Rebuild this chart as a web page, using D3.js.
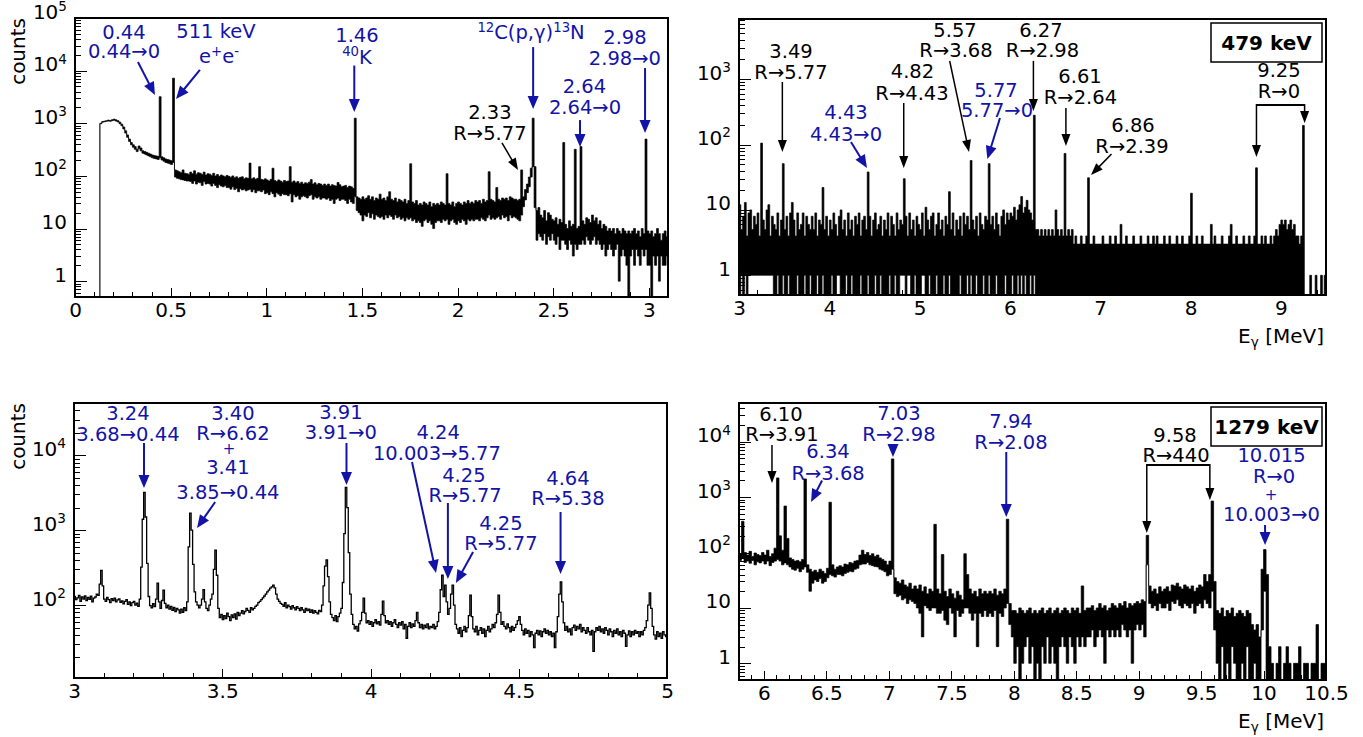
<!DOCTYPE html>
<html><head><meta charset="utf-8">
<script src="https://cdn.jsdelivr.net/npm/d3@7/dist/d3.min.js"></script>
<style>html,body{margin:0;padding:0;background:#fff}svg{display:block}</style>
</head><body>
<svg id="chart" width="1363" height="737"></svg>
<script>
// ---------------- DATA ----------------
// Panel A: 0 - 3.1 MeV, 10 keV bins, upper/lower envelope of the trace
const aStart = 0, aBin = 0.01;
const aHi = [
0,0,0,0,0,0,0,0,0,0,
0,0,0,1000,1080,1100,1120,1150,1130,1170,
1200,1160,1120,1050,960,850,720,600,500,430,
390,360,320,370,340,300,290,280,270,260,
250,245,240,235,3200,230,220,210,205,200,
195,7200,130,125,120,115,130,112,110,108,
118,110,125,108,115,112,106,118,104,110,
108,102,112,100,106,98,104,100,96,102,
98,94,100,92,96,90,94,96,88,92,
90,175,88,92,86,90,150,86,84,88,
84,80,86,140,82,78,84,80,76,82,
78,80,150,76,80,74,78,72,76,70,
74,72,76,85,70,74,68,72,70,66,
70,66,70,64,68,66,64,75,68,62,
64,66,60,64,62,58,1250,40,38,36,
40,36,38,42,36,40,34,38,36,45,
36,38,34,40,50,36,34,38,32,36,
34,32,36,30,34,170,32,30,34,28,
30,28,32,30,28,32,26,30,28,30,
28,32,30,28,110,30,28,32,26,30,
32,30,28,32,30,34,30,32,30,34,
32,34,30,36,32,34,120,36,34,32,
60,36,34,38,36,38,34,40,38,36,
36,34,36,130,40,55,70,95,140,1250,
150,22,25,18,16,22,14,20,18,15,
14,16,12,15,13,430,12,10,14,11,
12,320,10,11,360,14,12,16,15,13,
18,14,16,12,14,10,12,11,9,10,
9,10,8,10,9,8,10,9,8,9,
8,9,10,8,9,7,10,8,500,9,
8,9,7,8,10,8,6,8,9,7];
const aLo = [
0,0,0,0,0,0,0,0,0,0,
0,0,0,980,1050,1070,1090,1100,1090,1120,
1140,1100,1060,980,900,780,650,540,450,390,
350,320,290,330,300,270,260,250,240,230,
220,215,210,205,220,200,190,180,175,170,
165,180,95,90,88,85,84,82,80,80,
78,72,80,70,76,74,66,78,70,72,
70,64,72,66,60,68,64,62,66,60,
60,56,62,55,58,50,57,54,56,52,
54,56,50,55,48,52,52,50,54,46,
48,44,50,46,40,48,45,42,46,44,
44,42,46,32,44,40,42,36,40,42,
40,38,42,44,36,40,38,40,36,38,
38,36,38,34,36,30,36,38,34,36,
36,34,30,36,32,30,40,22,20,18,
14,18,17,20,16,19,15,18,17,16,
17,15,18,16,18,17,15,18,16,17,
15,16,14,16,15,16,14,15,13,14,
13,11,14,15,13,14,12,10,13,14,
14,13,15,14,15,12,14,15,13,12,
14,13,15,14,12,15,14,15,14,15,
15,14,16,15,14,16,18,15,16,15,
16,17,15,18,16,17,14,18,16,17,
16,15,14,18,26,35,48,62,95,150,
25,6,8,7,6,8,5,7,6,8,
6,5,7,4,6,6,5,4,6,5,
3,5,4,5,5,6,5,7,6,5,
6,7,5,6,5,4,5,3,4,5,
4,3,4,5,1,3,4,3,2,0,
3,4,2,4,3,2,4,3,4,2,
2,0,3,2,3,1,3,2,2,3];

// Panel B: 3 - 9.5 MeV, 20 keV bins ("479 keV")
const bStart = 3, bBin = 0.02;
const bHi = [
12,5,8,13,4,9,10,5,8,6,
9,4,105,7,5,10,12,4,8,6,
5,9,4,7,51,5,8,4,9,13,
7,4,9,5,6,9,4,8,6,5,
8,5,9,4,7,6,22,5,8,4,
7,5,9,6,4,8,10,5,7,4,
9,5,7,4,8,6,9,4,7,8,
5,38,8,4,7,9,5,6,8,4,
7,5,9,4,8,6,4,9,5,7,
6,30,8,4,9,5,7,4,8,6,
5,9,4,11,7,5,8,9,4,6,
9,5,7,4,8,6,19,5,9,4,
7,5,8,4,9,6,8,5,57,7,
5,8,4,9,6,5,8,7,51,6,
8,5,9,6,4,8,10,6,9,7,
9,8,11,7,10,12,16,9,11,14,
10,9,7,280,5,5,4,5,4,5,
4,5,4,5,4,10,5,4,5,4,
73,4,5,4,5,3,4,3,3,4,
3,3,4,31,3,3,4,3,3,3,
3,4,3,3,3,4,3,3,4,3,
3,6,3,3,4,3,3,3,4,3,
3,3,4,3,3,3,4,3,3,4,
3,4,3,3,3,4,3,3,4,3,
3,3,4,3,3,4,3,3,3,4,
18,3,3,4,3,3,4,3,3,3,
3,6,3,4,3,3,3,4,3,3,
3,4,6,3,3,4,3,3,3,4,
3,3,4,3,3,4,44,3,3,4,
3,4,3,3,4,3,4,5,4,6,
7,6,7,5,6,7,5,6,4,4,
3,4,196,0,0,0,1,0,0,1,
0,0,1,0,1];
const bLo = [
0,1,0,1,0,1,1,1,1,1,
1,1,1,1,1,1,1,1,1,0,
0,1,0,0,1,0,0,1,0,0,
0,0,1,0,0,0,1,0,0,1,
0,0,0,1,0,0,1,0,0,0,
0,1,0,0,1,1,0,0,0,1,
0,0,1,0,0,0,0,1,0,0,
0,1,0,0,0,1,0,0,1,0,
0,0,0,1,0,0,1,0,0,1,
1,1,0,1,1,0,0,1,0,0,
0,1,1,0,0,1,0,0,0,1,
0,0,0,1,0,0,1,0,0,0,
0,0,1,0,0,0,1,0,1,0,
0,1,0,0,0,1,0,0,1,0,
0,0,1,0,0,0,0,1,0,0,
0,1,0,0,1,0,1,0,1,0,
0,1,0,1,0,0,0,0,0,0,
0,0,0,0,0,0,0,0,0,0,
0,0,0,0,0,0,0,0,0,0,
0,0,0,0,0,0,0,0,0,0,
0,0,0,0,0,0,0,0,0,0,
0,0,0,0,0,0,0,0,0,0,
0,0,0,0,0,0,0,0,0,0,
0,0,0,0,0,0,0,0,0,0,
0,0,0,0,0,0,0,0,0,0,
0,0,0,0,0,0,0,0,0,0,
0,0,0,0,0,0,0,0,0,0,
0,0,0,0,0,0,0,0,0,0,
0,0,0,0,0,0,0,0,0,0,
0,0,0,0,0,0,0,0,0,0,
0,0,0,0,0,0,0,0,0,0,
0,0,0,0,0,0,0,0,0,0,
0,0,0,0,0];

// Panel C: 3 - 5 MeV, 5 keV bins
const cStart = 3, cBin = 0.005;
const cVal = [
130,118,125,135,112,128,120,132,115,126,
119,131,110,124,128,140,135,190,290,180,
120,112,126,118,108,122,115,124,110,117,
121,109,114,104,112,118,102,110,98,108,
112,100,106,96,120,320,1400,3200,1500,360,
130,98,92,104,95,120,196,110,90,115,
158,105,92,100,88,96,85,93,82,90,
86,78,88,80,92,84,110,600,1690,1000,
350,150,110,100,92,100,120,160,110,90,
84,100,120,140,300,540,250,90,68,75,
64,72,66,78,70,62,74,68,76,65,
80,72,78,84,76,82,90,85,80,92,
86,90,96,100,108,112,118,125,132,140,
150,158,168,175,185,170,140,120,112,105,
102,96,108,92,100,95,88,98,92,86,
95,90,84,92,86,80,90,84,88,80,
86,78,84,80,76,85,82,100,180,330,
400,240,110,75,68,62,72,60,70,78,
90,200,900,3740,2000,500,140,75,55,48,
52,45,56,62,80,124,78,58,62,55,
60,52,58,64,56,60,54,75,113,72,
58,62,55,60,52,58,64,55,50,58,
54,60,48,55,36,52,58,50,56,52,
62,80,58,50,55,48,54,50,56,48,
52,50,55,48,52,60,80,160,250,130,
185,110,75,90,140,185,100,55,48,42,
50,38,46,52,44,50,72,136,70,48,
44,52,40,46,50,42,48,38,46,52,
44,48,55,50,58,75,136,80,55,60,
52,48,56,50,44,52,46,50,55,62,
70,55,46,40,48,42,46,38,44,40,
27,42,46,40,45,38,44,48,42,46,
40,44,38,42,27,44,70,140,203,110,
58,46,52,44,48,40,50,54,46,52,
48,55,44,50,46,42,50,44,40,46,
24,44,50,46,52,44,48,42,50,46,
40,48,44,38,46,42,48,40,44,38,
46,42,28,40,45,38,44,40,46,42,
44,38,44,40,46,50,62,100,145,90,
52,40,35,44,38,42,36,44,40,38];

// Panel D: 5.8 - 10.5 MeV, 20 keV bins ("1279 keV")
const dStart = 5.8, dBin = 0.02;
const dHi = [
95,366,100,90,105,85,98,92,88,100,
90,110,85,95,120,2220,200,110,690,180,
80,75,70,72,68,75,2130,60,50,45,
48,44,50,46,42,52,810,60,50,55,
58,55,62,60,66,64,70,72,90,110,
92,100,88,95,85,90,80,75,70,60,
70,4900,35,30,28,32,26,24,28,22,
25,22,26,20,24,18,22,20,323,22,
18,92,20,16,22,18,15,20,17,14,
95,40,22,18,20,16,22,18,20,18,
20,18,22,17,20,18,22,400,12,9,
9,8,10,9,8,9,10,8,9,8,
9,10,8,9,10,8,9,10,8,9,
10,9,8,10,9,10,8,25,9,10,
10,11,9,10,12,10,11,9,10,12,
11,10,12,11,13,10,12,11,12,13,
12,14,13,204,25,20,22,18,24,20,
22,24,20,26,25,28,24,22,26,24,
22,25,20,23,26,24,40,30,40,850,
30,9,8,10,7,9,8,10,7,8,
9,8,7,9,8,5,4,5,3,50,
113,40,2,1,0,1,2,0,1,2,
1,0,1,1,2,0,1,1,0,1,
1,5,0,1,1];
const dLo = [
72,80,66,70,64,72,60,68,65,70,
62,70,58,66,70,75,70,60,65,60,
55,50,48,52,45,50,55,44,20,28,
32,30,34,28,30,35,40,38,36,40,
40,38,42,44,46,45,50,52,60,62,
62,66,60,58,56,55,50,48,45,38,
40,50,18,16,17,14,15,12,14,13,
12,10,8,3,11,10,9,10,10,8,
8,9,6,5,10,8,3,9,7,8,
10,10,8,6,8,2,8,7,9,7,
8,7,9,2,8,7,10,12,5,3,
1,2,0,1,2,3,1,2,0,1,
0,2,1,3,1,2,1,0,2,3,
2,1,3,2,1,3,2,3,2,3,
3,4,2,3,4,3,1,4,3,4,
3,4,3,5,4,3,4,1,4,5,
4,5,3,60,12,10,11,9,12,10,
10,12,9,13,12,14,11,10,12,11,
10,12,8,11,12,10,14,12,10,20,
4,1,0,2,0,1,0,2,1,0,
0,1,0,2,0,0,1,0,0,4,
20,0,0,0,0,0,0,0,0,0,
0,0,0,0,0,0,0,0,0,0,
0,0,0,0,0];

// tick labels
const aXTicks = [0,0.5,1,1.5,2,2.5,3];
const aXLabels = ["0","0.5","1","1.5","2","2.5","3"];
const aYTicks = [1,10,100,1000,10000,100000];
const aYLabels = ["1","10","10^{2}","10^{3}","10^{4}","10^{5}"];
const bXTicks = [3,4,5,6,7,8,9];
const bXLabels = ["3","4","5","6","7","8","9"];
const bYTicks = [1,10,100,1000];
const bYLabels = ["1","10","10^{2}","10^{3}"];
const cXTicks = [3,3.5,4,4.5,5];
const cXLabels = ["3","3.5","4","4.5","5"];
const cYTicks = [100,1000,10000];
const cYLabels = ["10^{2}","10^{3}","10^{4}"];
const dXTicks = [6,6.5,7,7.5,8,8.5,9,9.5,10,10.5];
const dXLabels = ["6","6.5","7","7.5","8","8.5","9","9.5","10","10.5"];
const dYTicks = [1,10,100,1000,10000];
const dYLabels = ["1","10","10^{2}","10^{3}","10^{4}"];

// annotations: [text, energy, counts(baseline), colour]
const annA = [
 ["0.44",0.256,4.0e4,"b"],["0.44→0",0.256,1.74e4,"b"],
 ["511 keV",0.737,4.17e4,"b"],["e^{+}e^{-}",0.753,1.4e4,"b"],
 ["1.46",1.474,3.5e4,"b"],["^{40}K",1.474,1.35e4,"b"],
 ["^{12}C(p,γ)^{13}N",2.384,4.0e4,"b"],
 ["2.98",2.875,3.2e4,"b"],["2.98→0",2.875,1.28e4,"b"],
 ["2.64",2.663,3760,"b"],["2.64→0",2.666,1500,"b"],
 ["2.33",2.169,1205,"k"],["R→5.77",2.169,481,"k"]];
const arrA = [
 [0.329,1.46e4,0.418,3440,"b"],[0.653,1.03e4,0.528,2890,"b"],
 [1.46,1.25e4,1.46,1640,"b"],[2.395,2.8e4,2.395,1870,"b"],
 [2.98,1.12e4,2.98,653,"b"],[2.64,1150,2.64,354,"b"],
 [2.232,422,2.316,129,"k"]];
const annB = [
 ["3.49",3.576,2100,"k"],["R→5.77",3.576,1000,"k"],
 ["4.43",4.185,245,"b"],["4.43→0",4.185,113,"b"],
 ["4.82",4.921,1040,"k"],["R→4.43",4.916,480,"k"],
 ["5.57",5.392,4400,"k"],["R→3.68",5.403,2180,"k"],
 ["5.77",5.846,533,"b"],["5.77→0",5.857,264,"b"],
 ["6.27",6.344,4400,"k"],["R→2.98",6.361,2180,"k"],
 ["6.61",6.776,873,"k"],["R→2.64",6.781,416,"k"],
 ["6.86",7.363,155,"k"],["R→2.39",7.352,74,"k"],
 ["9.25",8.979,1077,"k"],["R→0",8.979,514,"k"]];
const arrB = [
 [3.48,903,3.48,77,"k"],[4.24,109,4.417,43.7,"b"],
 [4.824,431,4.824,43.7,"k"],[5.333,1890,5.547,77,"k"],
 [5.89,254,5.75,60,"b"],[6.26,1900,6.26,325,"k"],
 [6.62,362,6.62,95,"k"],[7.125,71.6,6.898,34.2,"k"]];
const brB = [8.73,9.263,402,64.4,213];
const annC = [
 ["3.24",3.182,29600,"b"],["3.68→0.44",3.182,15500,"b"],
 ["3.40",3.536,29600,"b"],["R→6.62",3.536,16000,"b"],["+",3.523,10500,"b"],
 ["3.41",3.519,5630,"b"],["3.85→0.44",3.519,2610,"b"],
 ["3.91",3.9,30600,"b"],["3.91→0",3.9,16500,"b"],
 ["4.24",4.228,16500,"b"],["10.003→5.77",4.224,8650,"b"],
 ["4.25",4.315,4400,"b"],["R→5.77",4.319,2380,"b"],
 ["4.25",4.44,1005,"b"],["R→5.77",4.44,543,"b"],
 ["4.64",4.666,4010,"b"],["R→5.38",4.666,2170,"b"]];
const arrC = [
 [3.236,14600,3.236,3660,"b"],[3.476,2380,3.415,1070,"b"],
 [3.919,14600,3.919,4010,"b"],[4.14,8150,4.221,268,"b"],
 [4.261,2310,4.261,223,"b"],[4.346,511,4.288,197,"b"],
 [4.641,1750,4.641,260,"b"]];
const annD = [
 ["6.10",6.136,23700,"k"],["R→3.91",6.144,10300,"k"],
 ["6.34",6.513,5080,"b"],["R→3.68",6.513,2040,"b"],
 ["7.03",7.081,24700,"b"],["R→2.98",7.081,10400,"b"],
 ["7.94",7.978,17700,"b"],["R→2.08",7.978,7390,"b"],
 ["9.58",9.291,9890,"k"],["R→440",9.299,4300,"k"],
 ["10.015",10.064,4300,"b"],["R→0",10.084,1800,"b"],["+",10.06,900,"b"],["10.003→0",10.064,371,"b"]];
const arrD = [
 [6.064,8730,6.064,1800,"k"],[6.465,2000,6.377,816,"b"],
 [7.033,8370,7.033,5300,"b"],[7.94,6530,7.94,438,"b"],
 [10.012,314,10.012,137,"b"]];
const brD = [9.065,9.57,3800,225,887];

// ---------------- DRAWING ----------------
const FONT = "'DejaVu Sans', sans-serif";
const COL = {b:"#1313a8", k:"#000"};
const svg = d3.select("#chart");
svg.append("rect").attr("width",1363).attr("height",737).attr("fill","#fff");

function rich(t, str, size){
  const parts = str.split(/(\^\{[^}]*\}|_\{[^}]*\})/).filter(s=>s.length);
  let cur = 0;
  parts.forEach(p=>{
    let txt=p, fs=size, off=0;
    if(p.startsWith("^{")){txt=p.slice(2,-1); fs=size*0.68; off=-size*0.38;}
    else if(p.startsWith("_{")){txt=p.slice(2,-1); fs=size*0.68; off=size*0.22;}
    t.append("tspan").attr("dy", off-cur).attr("font-size", fs).text(txt);
    cur = off;
  });
}
function arrow(g,x1,y1,x2,y2,col){
  const blue = col==="b";
  const L = blue?13:12, W = blue?5.5:4.5, lw = blue?2:1.5;
  const a = Math.atan2(y2-y1,x2-x1), c=Math.cos(a), s=Math.sin(a);
  const bx=x2-L*c, by=y2-L*s;
  g.append("line").attr("x1",x1).attr("y1",y1).attr("x2",bx+c).attr("y2",by+s)
    .attr("stroke",COL[col]).attr("stroke-width",lw);
  g.append("path").attr("d",`M${x2},${y2}L${bx-W*s},${by+W*c}L${bx+W*s},${by-W*c}Z`).attr("fill",COL[col]);
}

const panels = [
 {id:"A", box:[75,18,668,297], xd:[0,3.1], yd:[0.5,1e5], start:aStart, bin:aBin, hi:aHi, lo:aLo,
  xt:aXTicks, xl:aXLabels, xm:0.1, yt:aYTicks, yl:aYLabels, ann:annA, arr:arrA, br:null, tag:null, xtitle:false},
 {id:"B", box:[739,19,1326,295], xd:[3,9.5], yd:[0.5,8300], start:bStart, bin:bBin, hi:bHi, lo:bLo,
  xt:bXTicks, xl:bXLabels, xm:0.2, yt:bYTicks, yl:bYLabels, ann:annB, arr:arrB, br:brB, tag:"479 keV", xtitle:true},
 {id:"C", box:[74,403,667,678], xd:[3,5], yd:[10.6,5e4], start:cStart, bin:cBin, hi:cVal, lo:null,
  xt:cXTicks, xl:cXLabels, xm:0.1, yt:cYTicks, yl:cYLabels, ann:annC, arr:arrC, br:null, tag:null, xtitle:false},
 {id:"D", box:[739,403,1326,680], xd:[5.8,10.5], yd:[0.5,5e4], start:dStart, bin:dBin, hi:dHi, lo:dLo,
  xt:dXTicks, xl:dXLabels, xm:0.1, yt:dYTicks, yl:dYLabels, ann:annD, arr:arrD, br:brD, tag:"1279 keV", xtitle:true}
];

panels.forEach(p=>{
  const [x0,y0,x1,y1] = p.box;
  const x = d3.scaleLinear().domain(p.xd).range([x0,x1]);
  const y = d3.scaleLog().domain(p.yd).range([y1,y0]).clamp(true);
  const yy = v => y(Math.max(v, p.yd[0]));
  const g = svg.append("g");
  const clipId = "clip"+p.id;
  svg.append("clipPath").attr("id",clipId).append("rect")
    .attr("x",x0).attr("y",y0).attr("width",x1-x0).attr("height",y1-y0);

  // spectrum
  const pts = p.hi.map((h,i)=>({e:p.start+i*p.bin, hi:h, lo:p.lo?p.lo[i]:h}));
  const last = pts[pts.length-1];
  pts.push({e:p.start+p.hi.length*p.bin, hi:last.hi, lo:last.lo});
  if(p.lo){
    g.append("path").attr("clip-path",`url(#${clipId})`)
      .attr("d", d3.area().x(d=>x(d.e)).y0(d=>yy(d.lo)).y1(d=>yy(d.hi)).curve(d3.curveStepAfter)(pts))
      .attr("fill","#000").attr("stroke","#000").attr("stroke-width",0.7);
  } else {
    g.append("path").attr("clip-path",`url(#${clipId})`)
      .attr("d", d3.line().x(d=>x(d.e)).y(d=>yy(d.hi)).curve(d3.curveStepAfter)(pts))
      .attr("fill","none").attr("stroke","#000").attr("stroke-width",1.3);
  }

  // frame
  g.append("rect").attr("x",x0).attr("y",y0).attr("width",x1-x0).attr("height",y1-y0)
    .attr("fill","none").attr("stroke","#000").attr("stroke-width",1.2).attr("shape-rendering","crispEdges");

  // x axis
  const xa = g.append("g").attr("transform",`translate(0,${y1})`)
    .call(d3.axisBottom(x).tickValues(p.xt).tickSizeInner(-9).tickSizeOuter(0).tickPadding(6)
      .tickFormat((d,i)=>p.xl[i]));
  xa.attr("font-size",20).attr("font-family",FONT);
  xa.select(".domain").remove();
  xa.selectAll("line").attr("shape-rendering","crispEdges");
  const nMin = Math.floor((p.xd[1]-p.xd[0])/p.xm+1e-6);
  const xminors = d3.range(0,nMin+1).map(k=>+(p.xd[0]+k*p.xm).toFixed(4))
    .filter(v=>v<=p.xd[1]+1e-9 && !p.xt.some(t=>Math.abs(t-v)<1e-6));
  const xm = g.append("g").attr("transform",`translate(0,${y1})`)
    .call(d3.axisBottom(x).tickValues(xminors).tickSizeInner(-5).tickSizeOuter(0).tickFormat(""));
  xm.select(".domain").remove();
  xm.selectAll("line").attr("shape-rendering","crispEdges");

  // y axis
  const ya = g.append("g").attr("transform",`translate(${x0},0)`)
    .call(d3.axisLeft(y).tickValues(p.yt).tickSizeInner(-12).tickSizeOuter(0).tickPadding(8).tickFormat(""));
  ya.attr("font-size",20).attr("font-family",FONT);
  ya.select(".domain").remove();
  ya.selectAll("line").attr("shape-rendering","crispEdges");
  ya.selectAll(".tick text").each(function(d,i){ rich(d3.select(this), p.yl[i], 20); });
  const yminors = [];
  for(let dd=Math.floor(Math.log10(p.yd[0])); dd<=Math.ceil(Math.log10(p.yd[1])); dd++)
    for(let m=2;m<=9;m++){ const v=m*Math.pow(10,dd); if(v>=p.yd[0]&&v<=p.yd[1]) yminors.push(v); }
  const ym = g.append("g").attr("transform",`translate(${x0},0)`)
    .call(d3.axisLeft(y).tickValues(yminors).tickSizeInner(-6).tickSizeOuter(0).tickFormat(""));
  ym.select(".domain").remove();
  ym.selectAll("line").attr("shape-rendering","crispEdges");

  // annotations
  const ag = svg.append("g").attr("font-family",FONT);
  p.ann.forEach(a=>{
    const fs = a[0]==="+"?15:19.5;
    const t = ag.append("text").attr("x",x(a[1])).attr("y",y(a[2])).attr("text-anchor","middle")
      .attr("fill",COL[a[3]]).attr("font-size", fs);
    rich(t, a[0], fs);
  });
  p.arr.forEach(a=> arrow(ag, x(a[0]), y(a[1]), x(a[2]), y(a[3]), a[4]));
  if(p.br){
    const X1=x(p.br[0]), X2=x(p.br[1]), Y=y(p.br[2]);
    ag.append("line").attr("x1",X1).attr("y1",Y).attr("x2",X2).attr("y2",Y)
      .attr("stroke","#000").attr("stroke-width",1.8);
    arrow(ag, X1, Y-0.9, X1, y(p.br[3]), "k");
    arrow(ag, X2, Y-0.9, X2, y(p.br[4]), "k");
  }
  if(p.tag){
    const bw=111, bh=39, bx=x1-4-bw, by=y0+4;
    ag.append("rect").attr("x",bx).attr("y",by).attr("width",bw).attr("height",bh)
      .attr("fill","#fff").attr("stroke","#000").attr("stroke-width",1.5);
    ag.append("text").attr("x",bx+bw/2).attr("y",by+bh/2+7).attr("text-anchor","middle")
      .attr("font-weight","bold").attr("font-size",20).attr("fill","#000").text(p.tag);
  }
  // titles
  if(p.xtitle){
    const t = svg.append("text").attr("x",x1-2).attr("y",y1+48).attr("text-anchor","end")
      .attr("font-family",FONT).attr("font-size",20).attr("fill","#000");
    rich(t, "E_{γ} [MeV]", 20);
  } else {
    svg.append("text").attr("transform",`translate(25,${y0}) rotate(-90)`).attr("text-anchor","end")
      .attr("font-family",FONT).attr("font-size",20).attr("fill","#000").text("counts");
  }
});
</script>
</body></html>
